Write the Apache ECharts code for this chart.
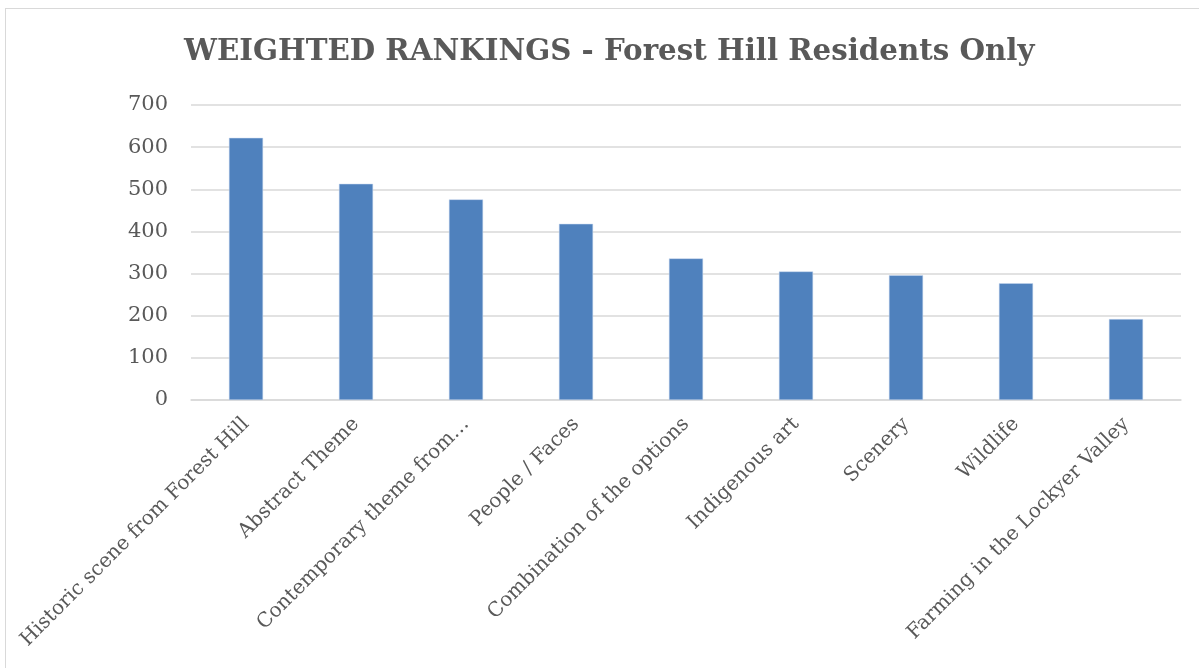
<!DOCTYPE html>
<html>
<head>
<meta charset="utf-8">
<script src="https://cdn.jsdelivr.net/npm/echarts@6/dist/echarts.min.js"></script>
<style>
  html, body { margin: 0; padding: 0; background: #fff; }
  #frame { position: absolute; left: 5px; top: 8px; width: 1200px; height: 670px; border: 1.5px solid #d9d9d9; box-sizing: border-box; }
  #chart { position: absolute; left: 0; top: 0; width: 1199px; height: 668px; }
</style>
</head>
<body>
<div id="frame"></div>
<div id="chart"></div>
<script>
  // 数据
  var categories = ['Historic scene from Forest Hill', 'Abstract Theme', 'Contemporary theme from…', 'People / Faces',
    'Combination of the options', 'Indigenous art', 'Scenery', 'Wildlife', 'Farming in the Lockyer Valley'];
  var rankValues = [622, 513, 476, 418, 336, 305, 296, 277, 192];
  var yTicks = [0, 100, 200, 300, 400, 500, 600, 700];

  var myChart = echarts.init(document.getElementById('chart'), null, { renderer: 'canvas' });
  var option = {
    backgroundColor: 'transparent',
    animation: false,
    title: {
      text: 'WEIGHTED RANKINGS - Forest Hill Residents Only',
      left: 179,
      top: 33,
      textStyle: { fontFamily: 'DejaVu Serif', fontWeight: 'bold', fontSize: 29.3, color: '#595959' }
    },
    grid: { left: 191, right: 18, top: 105, bottom: 268 },
    xAxis: {
      type: 'category',
      data: categories,
      axisLine: { lineStyle: { color: '#d9d9d9', width: 1.5 } },
      axisTick: { show: false },
      axisLabel: { rotate: 45, margin: 21, interval: 0, fontFamily: 'DejaVu Serif', fontSize: 20, color: '#595959' }
    },
    yAxis: {
      type: 'value',
      min: yTicks[0],
      max: yTicks[yTicks.length - 1],
      interval: 100,
      axisLine: { show: false },
      axisTick: { show: false },
      splitLine: { lineStyle: { color: '#d9d9d9', width: 1.5 } },
      axisLabel: { margin: 23, fontFamily: 'DejaVu Serif', fontSize: 21, color: '#595959' }
    },
    series: [{
      type: 'bar',
      data: rankValues,
      barWidth: '31%',
      itemStyle: { color: '#4f81bd', borderColor: '#c6d7ee', borderWidth: 0.5 }
    }]
  };
  myChart.setOption(option);
</script>
</body>
</html>
